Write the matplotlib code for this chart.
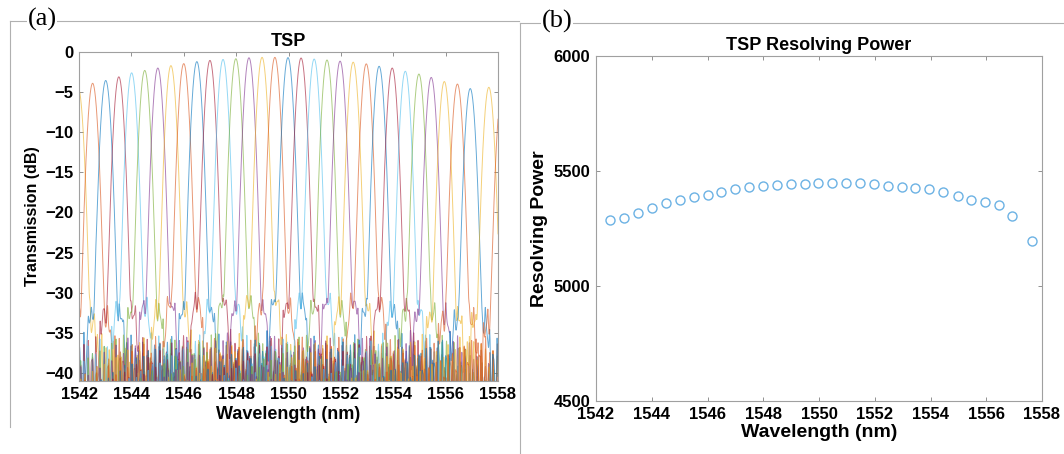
import matplotlib

matplotlib.use("Agg")
import matplotlib.pyplot as plt
import numpy as np
from matplotlib.lines import Line2D

plt.rcParams["font.family"] = ["Liberation Sans", "DejaVu Sans"]

# channel centres (nm) and peak transmission (dB)
CHANNEL_CENTER = [1541.97, 1542.52, 1543.02, 1543.52, 1544.01, 1544.51, 1545.01, 1545.51,
                  1546.00, 1546.50, 1547.00, 1547.50, 1547.99, 1548.49, 1548.99, 1549.48,
                  1549.98, 1550.48, 1550.98, 1551.47, 1551.97, 1552.47, 1552.97, 1553.46,
                  1553.96, 1554.46, 1554.98, 1555.45, 1555.95, 1556.45, 1556.94, 1557.65,
                  1558.15]
CHANNEL_PEAK = [-4.5, -3.9, -3.55, -3.1, -2.6, -2.3, -2.0, -1.7,
                -1.45, -1.2, -1.05, -0.93, -0.84, -0.72, -0.67, -0.67,
                -0.7, -0.75, -0.88, -1.0, -1.14, -1.27, -1.48, -1.78,
                -2.0, -2.4, -2.75, -3.17, -3.68, -4.0, -4.56, -4.4,
                -5.0]
# first sidelobe level (dB) per channel
CHANNEL_SIDELOBE = [-35.0, -34.5, -33.8, -33.5, -32.8, -33.6, -32.4, -33.2,
                    -32.0, -33.4, -31.8, -32.6, -32.0, -33.0, -31.6, -32.8,
                    -31.8, -32.4, -31.6, -33.0, -32.0, -32.6, -31.8, -33.2,
                    -32.4, -33.0, -33.4, -34.0, -34.2, -34.6, -35.0, -34.8,
                    -35.0]
CHANNEL_COLOR = ["#EDB120", "#D95319", "#0072BD", "#A2142F", "#4DBEEE", "#77AC30", "#7E2F8E", "#EDB120",
                 "#D95319", "#0072BD", "#A2142F", "#4DBEEE", "#77AC30", "#7E2F8E", "#EDB120", "#D95319",
                 "#0072BD", "#A2142F", "#4DBEEE", "#77AC30", "#7E2F8E", "#EDB120", "#D95319", "#0072BD",
                 "#A2142F", "#4DBEEE", "#77AC30", "#7E2F8E", "#EDB120", "#D95319", "#0072BD", "#EDB120",
                 "#D95319"]

# panel (b): resolving power per channel
RP_WAVELENGTH = [1542.52, 1543.02, 1543.52, 1544.01, 1544.51, 1545.01, 1545.51, 1546.00,
                 1546.50, 1547.00, 1547.50, 1547.99, 1548.49, 1548.99, 1549.48, 1549.98,
                 1550.48, 1550.98, 1551.47, 1551.97, 1552.47, 1552.97, 1553.46, 1553.96,
                 1554.46, 1554.98, 1555.45, 1555.95, 1556.45, 1556.94, 1557.65]
RP_VALUE = [5287, 5297, 5316, 5339, 5362, 5374, 5388, 5394,
            5409, 5423, 5430, 5435, 5439, 5445, 5443, 5448,
            5448, 5449, 5448, 5443, 5435, 5432, 5426, 5420,
            5407, 5391, 5372, 5364, 5354, 5303, 5194]

MAIN_LOBE_CURV = 150.0   # dB / nm^2
SIDELOBE_OFFSET = 0.58   # nm


def channel_response(wl, center, peak, side, k):
    d = wl - center
    main = peak - MAIN_LOBE_CURV * d ** 2
    first = side - 300.0 * (np.abs(d) - SIDELOBE_OFFSET) ** 2
    phase = 1.7 * k
    env = -38.3 - 2.0 * np.abs(d)
    floor = env + 3.5 * np.cos(2 * np.pi * d / 0.15 + phase) + 1.5 * np.cos(2 * np.pi * d / 0.09 + 2.3 * phase)
    lin = 10 ** (main / 10) + 10 ** (first / 10) + 10 ** (floor / 10)
    return 10 * np.log10(lin)


fig = plt.figure(figsize=(10.64, 4.54), dpi=100)

# panel frames
frame_kw = dict(color="#b0b0b0", lw=0.8, transform=fig.transFigure)
W, H = 1064.0, 454.0
fig.add_artist(Line2D([10 / W, 519 / W], [1 - 21 / H, 1 - 21 / H], **frame_kw))
fig.add_artist(Line2D([10 / W, 10 / W], [1 - 21 / H, 1 - 427 / H], **frame_kw))
fig.add_artist(Line2D([520 / W, 1.0], [1 - 23 / H, 1 - 23 / H], **frame_kw))
fig.add_artist(Line2D([520 / W, 520 / W], [1 - 23 / H, 0.0], **frame_kw))

# (a) transmission spectra
ax1 = fig.add_axes([79 / W, 1 - 381 / H, 419 / W, 329 / H])
wl = np.linspace(1542, 1558, 3000)
for k, (c, p, s, col) in enumerate(zip(CHANNEL_CENTER, CHANNEL_PEAK, CHANNEL_SIDELOBE, CHANNEL_COLOR)):
    ax1.plot(wl, channel_response(wl, c, p, s, k), color=col, lw=0.7, alpha=0.6)
ax1.set_xlim(1542, 1558)
ax1.set_ylim(-41, 0)
ax1.set_xticks(np.arange(1542, 1559, 2))
ax1.set_yticks(np.arange(-40, 1, 5))
ax1.set_title("TSP", fontsize=13, fontweight="bold", pad=4)
ax1.set_xlabel("Wavelength (nm)", fontsize=13, fontweight="bold", labelpad=3)
ax1.set_ylabel("Transmission (dB)", fontsize=11.5, fontweight="bold", labelpad=4)

# (b) resolving power
ax2 = fig.add_axes([596 / W, 1 - 401 / H, 446 / W, 345 / H])
ax2.plot(RP_WAVELENGTH, RP_VALUE, "o", mfc="none", mec="#6CB2E4", ms=6.5, mew=1.0)
ax2.set_xlim(1542, 1558)
ax2.set_ylim(4500, 6000)
ax2.set_xticks(np.arange(1542, 1559, 2))
ax2.set_yticks([4500, 5000, 5500, 6000])
ax2.set_title("TSP Resolving Power", fontsize=13, fontweight="bold", pad=4)
ax2.set_xlabel("Wavelength (nm)", fontsize=14, fontweight="bold", labelpad=2)
ax2.set_ylabel("Resolving Power", fontsize=14, fontweight="bold", labelpad=4)

for ax in (ax1, ax2):
    for spine in ax.spines.values():
        spine.set_color("#a0a0a0")
        spine.set_linewidth(0.8)
    ax.tick_params(direction="in", length=3, width=0.6, color="#808080", top=True, right=True,
                   labelsize=12, pad=4)
    for lab in ax.get_xticklabels() + ax.get_yticklabels():
        lab.set_fontweight("bold")

box = dict(facecolor="white", edgecolor="none", pad=0.5)
fig.text(42 / W, 1 - 19 / H, "(a)", family="Liberation Serif", fontsize=19, ha="center", va="center", bbox=box)
fig.text(557 / W, 1 - 21 / H, "(b)", family="Liberation Serif", fontsize=19, ha="center", va="center", bbox=box)

fig.savefig("out.png", dpi=100, facecolor="white")
